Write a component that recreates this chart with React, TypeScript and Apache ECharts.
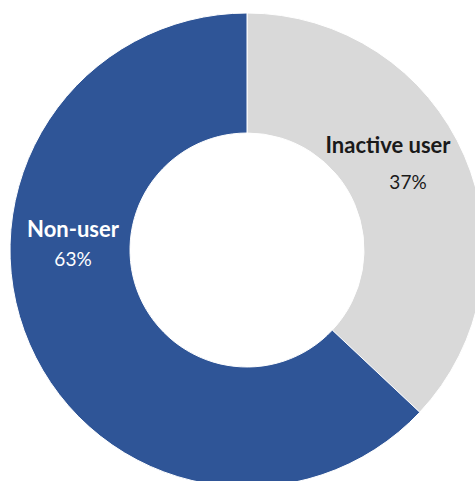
import React, { useEffect, useRef } from "react";
import * as echarts from "echarts";

const categories = ["Inactive user", "Non-user"];
const values = [37, 63];
const colors = ["#D9D9D9", "#2F5597"];
const labelColors = ["#1a1a1a", "#ffffff"];
const labelCenters = [
  [388, 163],
  [73, 243],
];
const lineGaps = [37, 30];
const valueShift = [40, 0];

export default function App() {
  const ref = useRef<HTMLDivElement>(null);
  useEffect(() => {
    if (!ref.current) return;
    const chart = echarts.init(ref.current, null, { renderer: "svg" });
    chart.setOption({
      animation: false,
      backgroundColor: "#ffffff",
      series: [
        {
          type: "pie",
          center: [247, 250],
          radius: [117, 237],
          startAngle: 90,
          clockwise: true,
          silent: true,
          itemStyle: { borderColor: "#ffffff", borderWidth: 1 },
          label: {
            show: true,
            position: "inside",
            formatter: (p: any) => `{n|${p.name}}\n{v|${p.value}%}`,
            align: "center",
            verticalAlign: "middle",
          },
          labelLine: { show: false },
          labelLayout: (p: any) => ({
            x: labelCenters[p.dataIndex][0],
            y: labelCenters[p.dataIndex][1],
            align: "center",
            verticalAlign: "middle",
          }),
          data: categories.map((c, i) => ({
            name: c,
            value: values[i],
            itemStyle: { color: colors[i] },
            label: {
              rich: {
                n: {
                  fontFamily: "Lato",
                  fontWeight: "bold",
                  fontSize: 22,
                  color: labelColors[i],
                  lineHeight: lineGaps[i],
                  align: "center",
                },
                v: {
                  fontFamily: "Lato",
                  fontSize: 19,
                  color: labelColors[i],
                  lineHeight: lineGaps[i],
                  align: "center",
                  padding: [0, 0, 0, valueShift[i]],
                },
              },
            },
          })),
        },
      ],
    });
    return () => chart.dispose();
  }, []);
  return (
    <div
      ref={ref}
      style={{ position: "fixed", left: 0, top: 0, width: 475, height: 481 }}
    />
  );
}
